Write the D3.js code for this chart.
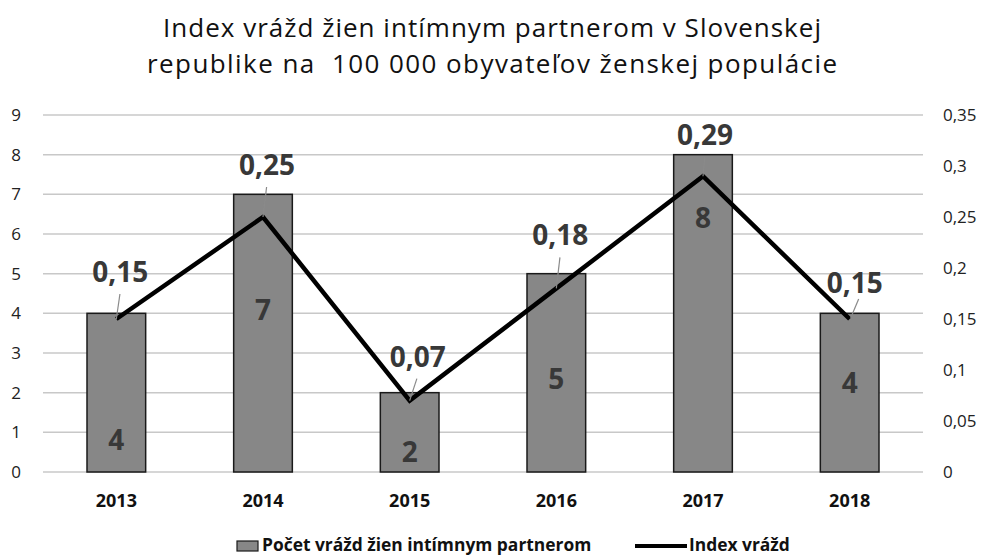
<!DOCTYPE html>
<html>
<head>
<meta charset="utf-8">
<script src="https://cdn.jsdelivr.net/npm/d3@7"></script>
<style>
  body { margin: 0; background: #fff; }
  svg { display: block; font-family: "Open Sans", "Noto Sans", sans-serif; }
</style>
</head>
<body>
<svg id="chart" width="983" height="555"></svg>
<script>
const years = ["2013", "2014", "2015", "2016", "2017", "2018"];
const murders = [4, 7, 2, 5, 8, 4];
const indexValues = [0.15, 0.25, 0.07, 0.18, 0.29, 0.15];
const leftTicks = [0, 1, 2, 3, 4, 5, 6, 7, 8, 9];
const rightTicks = [0, 0.05, 0.1, 0.15, 0.2, 0.25, 0.3, 0.35];
const titleLines = ["Index vrážd žien intímnym partnerom v Slovenskej", "republike na  100 000 obyvateľov ženskej populácie"];
const legendLabels = ["Počet vrážd žien intímnym partnerom", "Index vrážd"];
// label anchor positions inside bars (in left-axis units)
const barLabelAt = [0.81, 4.08, 0.5, 2.34, 6.4, 2.24];

const svg = d3.select("#chart");
const m = { left: 43, right: 60, top: 115, bottom: 83 };
const W = 983, H = 555;
const x = d3.scaleBand().domain(years).range([m.left, W - m.right]).paddingInner(0.6).paddingOuter(0.3);
const y = d3.scaleLinear().domain([0, 9]).range([H - m.bottom, m.top]);
const y2 = d3.scaleLinear().domain([0, 0.35]).range([H - m.bottom, m.top]);
const fmt = v => String(v).replace(".", ",");

// title
const titleWidths = [658, 690];
svg.append("g").selectAll("text").data(titleLines).join("text")
  .attr("x", 492).attr("y", (d, i) => 37 + i * 36)
  .attr("text-anchor", "middle").attr("font-size", 26).attr("fill", "#111")
  .attr("textLength", (d, i) => titleWidths[i]).attr("lengthAdjust", "spacing")
  .style("white-space", "pre").attr("xml:space", "preserve")
  .text(d => d);

// gridlines
svg.append("g").selectAll("line").data(leftTicks).join("line")
  .attr("x1", m.left).attr("x2", W - m.right)
  .attr("y1", d => y(d)).attr("y2", d => y(d))
  .attr("stroke", "#c8c8c8").attr("stroke-width", 1.5);

// left axis
const ax = svg.append("g").attr("transform", `translate(${m.left - 27},0)`)
  .call(d3.axisLeft(y).tickValues(leftTicks).tickSize(0).tickPadding(0));
ax.select(".domain").remove();
ax.selectAll("text").attr("font-size", 17).attr("fill", "#222").attr("font-family", "Open Sans").attr("text-anchor", "middle");

// right axis
const ax2 = svg.append("g").attr("transform", `translate(${W - m.right + 20},0)`)
  .call(d3.axisRight(y2).tickValues(rightTicks).tickSize(0).tickPadding(0).tickFormat(fmt));
ax2.select(".domain").remove();
ax2.selectAll("text").attr("font-size", 17).attr("fill", "#222").attr("font-family", "Open Sans");

// bottom axis labels
const axb = svg.append("g").attr("transform", `translate(0,${H - m.bottom})`)
  .call(d3.axisBottom(x).tickSize(0).tickPadding(0));
axb.select(".domain").remove();
axb.selectAll("text").attr("font-size", 18).attr("font-weight", "bold").attr("fill", "#111")
  .attr("font-family", "Open Sans").attr("y", 35).attr("dy", null);

// bars
svg.append("g").selectAll("rect").data(murders).join("rect")
  .attr("x", (d, i) => x(years[i])).attr("width", x.bandwidth())
  .attr("y", d => y(d)).attr("height", d => y(0) - y(d))
  .attr("fill", "#878787").attr("stroke", "#1a1a1a").attr("stroke-width", 1.5);

// bar labels
svg.append("g").selectAll("text").data(murders).join("text")
  .attr("x", (d, i) => x(years[i]) + x.bandwidth() / 2)
  .attr("y", (d, i) => y(barLabelAt[i]))
  .attr("dy", "0.35em").attr("text-anchor", "middle")
  .attr("font-size", 28).attr("font-weight", "bold").attr("fill", "#383838")
  .text(d => d);

// line
const cx = i => x(years[i]) + x.bandwidth() / 2;
svg.append("path").datum(indexValues)
  .attr("d", d3.line().x((d, i) => cx(i)).y(d => y2(d)))
  .attr("fill", "none").attr("stroke", "#000").attr("stroke-width", 4.5).attr("stroke-linejoin", "miter");

// line labels with leaders (offset of label baseline/centre from the point)
const lblOff = [[4, -37], [4, -42], [8, -34], [4, -43], [2, -31], [5, -26]];
const g = svg.append("g");
indexValues.forEach((v, i) => {
  const px = cx(i), py = y2(v);
  const lx = px + lblOff[i][0], ly = py + lblOff[i][1];
  if (lblOff[i][1] < -28) {
    g.append("line").attr("x1", px).attr("y1", py).attr("x2", px + (lx - px) * 0.9).attr("y2", ly + 12)
      .attr("stroke", "#8a8a8a").attr("stroke-width", 1.2);
  } else {
    g.append("line").attr("x1", px + 1).attr("y1", py - 1).attr("x2", lx + 4).attr("y2", ly + 6)
      .attr("stroke", "#8a8a8a").attr("stroke-width", 1.2);
  }
  g.append("text").attr("x", lx).attr("y", ly).attr("text-anchor", "middle")
    .attr("font-size", 28).attr("font-weight", "bold").attr("fill", "#383838").text(fmt(v));
});

// legend
const lg = svg.append("g");
lg.append("rect").attr("x", 237).attr("y", 541).attr("width", 21).attr("height", 10)
  .attr("fill", "#878787").attr("stroke", "#1a1a1a").attr("stroke-width", 1.2);
lg.append("text").attr("x", 262).attr("y", 551).attr("font-size", 17.4).attr("font-weight", "bold").attr("fill", "#111").text(legendLabels[0]);
lg.append("line").attr("x1", 635).attr("x2", 687).attr("y1", 546).attr("y2", 546).attr("stroke", "#000").attr("stroke-width", 4);
lg.append("text").attr("x", 689).attr("y", 551).attr("font-size", 17.4).attr("font-weight", "bold").attr("fill", "#111").text(legendLabels[1]);
</script>
</body>
</html>
